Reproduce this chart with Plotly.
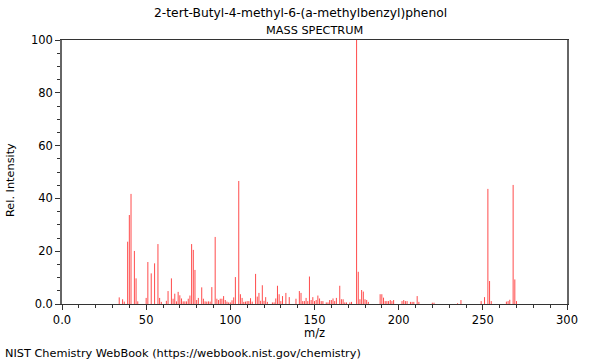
import plotly.graph_objects as go

mz = [34, 36, 37, 39, 40, 41, 43, 44, 45, 50, 51, 53, 55, 57, 58, 59, 62, 63, 65, 66, 67, 68, 69, 70,
      71, 72, 73, 74, 75, 76, 77, 78, 79, 80, 81, 83, 84, 85, 86, 87, 88, 89, 91, 92, 93, 94, 95, 96,
      97, 98, 99, 100, 101, 102, 103, 105, 106, 107, 108, 109, 110, 111, 112, 113, 115, 116, 117, 118,
      119, 120, 121, 122, 125, 126, 127, 128, 129, 130, 131, 133, 135, 139, 141, 142, 143, 144, 145,
      146, 147, 148, 149, 150, 151, 152, 153, 154, 155, 157, 158, 159, 160, 161, 162, 163, 165, 166,
      167, 168, 169, 171, 172, 175, 176, 177, 178, 179, 180, 181, 182, 189, 190, 191, 192, 193, 194,
      195, 196, 197, 202, 203, 204, 205, 207, 208, 209, 211, 212, 220, 221, 235, 237, 249, 251, 253,
      254, 255, 264, 265, 266, 268, 269, 270]
intensity = [2.5, 1.8, 0.9, 23.6, 33.7, 41.7, 20.1, 9.7, 1.0, 2.3, 15.9, 11.6, 15.4, 22.7, 2.3, 0.8,
             1.2, 4.9, 9.7, 2.0, 3.9, 1.0, 4.6, 3.3, 2.1, 1.0, 1.0, 1.0, 2.0, 3.2, 22.7, 20.5, 12.9,
             1.5, 2.3, 6.3, 2.0, 1.0, 0.9, 1.0, 0.9, 6.4, 25.4, 2.0, 1.5, 2.0, 2.0, 3.0, 1.5, 0.9,
             0.6, 0.6, 1.4, 2.5, 10.2, 46.6, 3.7, 2.3, 0.8, 0.9, 1.1, 1.1, 2.2, 0.9, 11.4, 2.8, 4.2,
             1.2, 7.1, 1.2, 2.6, 0.8, 0.6, 0.6, 2.1, 6.9, 3.7, 1.1, 3.0, 4.2, 2.6, 2.0, 4.9, 4.2,
             1.1, 1.1, 2.3, 1.1, 10.4, 1.5, 2.6, 1.1, 1.5, 3.2, 2.1, 1.1, 1.1, 0.6, 0.6, 1.5, 1.5,
             2.1, 1.1, 2.3, 6.9, 1.8, 1.8, 0.6, 0.6, 0.6, 0.8, 100.0, 12.2, 1.8, 5.3, 4.7, 1.8, 1.5,
             0.8, 3.7, 3.7, 2.4, 1.1, 1.1, 1.1, 1.5, 1.1, 1.5, 1.1, 1.5, 1.1, 1.1, 0.8, 0.8, 0.8,
             3.0, 0.8, 0.5, 0.5, 0.3, 1.5, 1.1, 2.6, 43.6, 8.7, 1.1, 0.9, 1.1, 1.6, 45.1, 9.3, 1.1]

x_ticks = [0, 50, 100, 150, 200, 250, 300]
x_ticktext = ["0.0", "50", "100", "150", "200", "250", "300"]
y_ticks = [0, 20, 40, 60, 80, 100]
y_ticktext = ["0.0", "20", "40", "60", "80", "100"]

title_line1 = "2-tert-Butyl-4-methyl-6-(a-methylbenzyl)phenol"
title_line2 = "MASS SPECTRUM"
x_title = "m/z"
y_title = "Rel. Intensity"
footer = "NIST Chemistry WebBook (https://webbook.nist.gov/chemistry)"

xs, ys = [], []
for m, v in zip(mz, intensity):
    xs += [m, m, None]
    ys += [0, v, None]

fig = go.Figure(go.Scatter(x=xs, y=ys, mode="lines",
                           line=dict(color="rgba(255,30,30,0.8)", width=1),
                           hoverinfo="skip", showlegend=False))

L, R, T, B = 62, 33, 40, 56
pw = 600 - L - R
ph = 360 - T - B

def px_x(px):
    return (px - L) / pw

def px_y(py):
    return (360 - B - py) / ph

font = "DejaVu Sans, Verdana, sans-serif"
fig.update_layout(
    width=600, height=360,
    margin=dict(l=L, r=R, t=T, b=B),
    paper_bgcolor="white", plot_bgcolor="white",
    font=dict(family=font, size=11.5, color="black"),
    showlegend=False,
    xaxis=dict(range=[0, 300], tickvals=x_ticks, ticktext=x_ticktext,
               ticks="outside", ticklen=5, tickcolor="#333", showgrid=False, zeroline=False,
               showline=True, linecolor="#333", linewidth=1, mirror=True,
               minor=dict(dtick=10, ticks="outside", ticklen=3, tickcolor="#333"),
               tickfont=dict(size=11.5)),
    yaxis=dict(range=[0, 100], tickvals=y_ticks, ticktext=y_ticktext,
               ticks="outside", ticklen=5, tickcolor="#333", showgrid=False, zeroline=False,
               showline=True, linecolor="#666", linewidth=1.5, mirror=True,
               minor=dict(dtick=5, ticks="outside", ticklen=3, tickcolor="#333"),
               tickfont=dict(size=11.5)),
    annotations=[
        dict(text=title_line1, x=px_x(300), y=px_y(13), xref="paper", yref="paper",
             showarrow=False, font=dict(size=12.3), xanchor="center", yanchor="middle"),
        dict(text=title_line2, x=px_x(314), y=px_y(30), xref="paper", yref="paper",
             showarrow=False, font=dict(size=11.3), xanchor="center", yanchor="middle"),
        dict(text=x_title, x=px_x(314), y=px_y(333), xref="paper", yref="paper",
             showarrow=False, font=dict(size=11.5), xanchor="center", yanchor="middle"),
        dict(text=y_title, x=px_x(10), y=px_y(180), xref="paper", yref="paper",
             showarrow=False, font=dict(size=11.3), xanchor="center", yanchor="middle",
             textangle=-90),
        dict(text=footer, x=px_x(3), y=px_y(353), xref="paper", yref="paper",
             showarrow=False, font=dict(size=11.3), xanchor="left", yanchor="middle"),
    ],
)

fig.write_html("out.html", config={"displayModeBar": False},
               post_script="document.body.style.margin='0';document.body.style.overflow='hidden';")
